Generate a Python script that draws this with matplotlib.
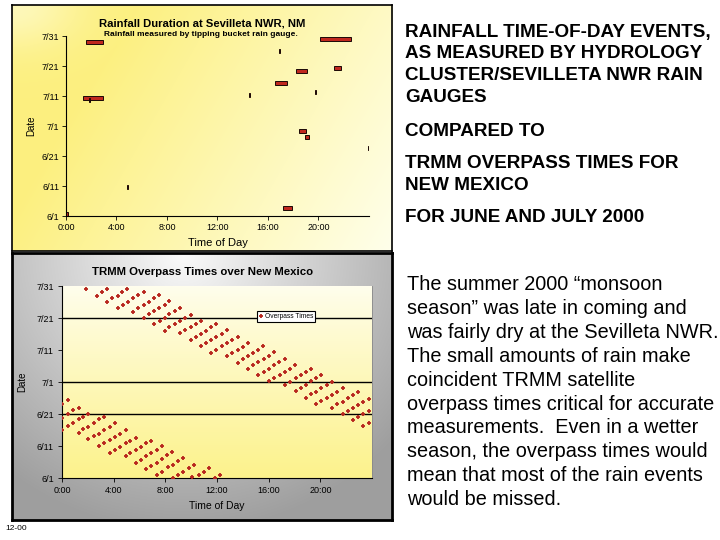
import matplotlib

matplotlib.use("Agg")
import matplotlib.pyplot as plt
import numpy as np

plt.rcParams["font.family"] = ["Liberation Sans", "DejaVu Sans"]

W, H = 720, 540

DATE_TICKS = [0, 10, 20, 30, 40, 50, 60]
DATE_LABELS = ["6/1", "6/11", "6/21", "7/1", "7/11", "7/21", "7/31"]
HOUR_TICKS = [0, 4, 8, 12, 16, 20]
HOUR_LABELS = ["0:00", "4:00", "8:00", "12:00", "16:00", "20:00"]

# rain gauge events (hours of day, days after 6/1)
rain_start = [1.58, 1.37, 1.82, 4.85, 0.02, 17.2, 14.47, 16.58, 18.22, 21.25, 20.12, 16.85, 19.73, 18.48, 18.93, 23.9]
rain_end = [2.91, 2.91, 1.9, 4.95, 0.12, 17.9, 14.57, 17.53, 19.06, 21.76, 22.55, 16.95, 19.83, 19.01, 19.25, 23.97]
rain_day = [58.1, 39.4, 38.6, 9.6, 0.6, 2.6, 40.3, 44.2, 48.3, 49.2, 59.1, 55.1, 41.4, 28.2, 26.3, 22.6]

# TRMM overpasses over New Mexico (hours of day, days after 6/1)
overpass_hour = [
    1.82,
    2.70, 3.08, 3.47,
    3.47, 3.88, 4.30, 4.68, 5.07,
    4.30, 4.71, 5.10, 5.51, 5.90, 6.31,
    5.48, 5.90, 6.31, 6.70, 7.11, 7.52,
    6.31, 6.70, 7.11, 7.52, 7.94, 8.32,
    7.14, 7.55, 7.96, 8.32, 8.71, 9.10,
    7.94, 8.32, 8.71, 9.15, 9.56, 9.95,
    9.15, 9.56, 9.95, 10.34, 10.75,
    9.95, 10.34, 10.75, 11.16, 11.55, 11.96,
    10.75, 11.16, 11.55, 11.96, 12.37, 12.79,
    11.55, 11.96, 12.37, 12.79, 13.17, 13.59,
    12.79, 13.17, 13.59, 14.00, 14.39,
    13.59, 14.00, 14.39, 14.80, 15.21, 15.55,
    14.39, 14.80, 15.21, 15.60, 16.01, 16.40,
    15.21, 15.60, 16.01, 16.40, 16.81, 17.23,
    16.01, 16.43, 16.84, 17.23, 17.64, 18.05,
    17.30, 17.69, 18.10, 18.49, 18.90, 19.29,
    18.08, 18.49, 18.90, 19.29, 19.70, 20.09,
    18.90, 19.29, 19.70, 20.09, 20.50, 20.92,
    19.70, 20.09, 20.50, 20.92, 21.30, 21.72,
    20.92, 21.30, 21.72, 22.13, 22.52, 22.93,
    21.72, 22.13, 22.52, 22.93, 23.34, 23.75,
    22.52, 22.93, 23.34, 23.75,
    23.34, 23.75,
    0.02, 0.45,
    0.02, 0.45, 0.89, 1.28,
    0.02, 0.45, 0.89, 1.28, 1.66, 2.05,
    1.28, 1.66, 2.05, 2.46, 2.88, 3.29,
    2.05, 2.46, 2.88, 3.29, 3.68, 4.09,
    2.88, 3.29, 3.68, 4.09, 4.50, 4.92,
    3.68, 4.09, 4.50, 4.92, 5.30, 5.72,
    4.92, 5.30, 5.72, 6.13, 6.52, 6.90,
    5.72, 6.13, 6.52, 6.90, 7.32, 7.76,
    6.52, 6.90, 7.32, 7.76, 8.12, 8.53,
    7.32, 7.76, 8.19, 8.58, 8.97, 9.35,
    8.58, 8.97, 9.35, 9.82, 10.21,
    10.05, 10.59, 10.98, 11.37,
    11.81, 12.25,
]
overpass_day = [
    59.2,
    57.0, 58.0, 59.2,
    55.1, 56.1, 57.0, 58.0, 59.2,
    53.0, 54.1, 55.1, 56.1, 57.1, 58.1,
    52.0, 53.0, 54.1, 55.1, 56.1, 57.1,
    50.1, 51.1, 52.1, 53.0, 54.2, 55.2,
    48.0, 49.1, 50.1, 51.1, 52.1, 53.1,
    46.0, 47.1, 48.0, 49.0, 50.0, 51.0,
    45.2, 46.1, 47.1, 48.1, 49.2,
    43.1, 44.1, 45.1, 46.0, 47.1, 48.2,
    41.2, 42.2, 43.1, 44.1, 45.1, 46.2,
    39.1, 40.1, 41.1, 42.1, 43.1, 44.2,
    38.1, 39.0, 40.1, 41.0, 42.2,
    36.0, 37.1, 38.0, 39.0, 40.0, 41.1,
    34.2, 35.2, 36.2, 37.2, 38.2, 39.4,
    32.2, 33.1, 34.1, 35.2, 36.1, 37.2,
    30.3, 31.2, 32.2, 33.2, 34.2, 35.2,
    29.2, 30.1, 31.1, 32.2, 33.1, 34.1,
    27.1, 28.2, 29.1, 30.2, 31.1, 32.2,
    25.1, 26.1, 27.0, 28.1, 29.2, 30.1,
    23.0, 24.0, 25.1, 26.0, 27.0, 28.1,
    21.9, 23.0, 23.9, 24.9, 25.9, 26.9,
    19.9, 20.9, 21.8, 22.9, 23.8, 24.8,
    18.1, 19.0, 20.0, 21.0,
    16.2, 17.1,
    23.0, 24.3,
    18.8, 20.1, 21.2, 22.0,
    14.9, 16.3, 17.2, 18.3, 19.1, 20.1,
    14.2, 15.2, 16.0, 17.2, 18.3, 19.1,
    12.1, 13.0, 13.9, 14.9, 16.0, 17.2,
    10.0, 11.0, 11.8, 12.8, 13.9, 14.9,
    7.8, 8.8, 9.7, 10.8, 11.7, 12.6,
    6.8, 7.7, 8.7, 9.7, 10.8, 11.7,
    4.8, 5.7, 6.8, 7.8, 8.9, 9.9,
    2.9, 3.9, 4.8, 5.9, 7.1, 8.1,
    1.0, 2.0, 3.3, 4.2, 5.2, 6.1,
    0.1, 1.0, 1.9, 3.1, 4.2,
    0.2, 1.0, 1.9, 3.1,
    0.1, 1.0,
]
grid_days = [20, 30, 50]

heading_lines = [
    "RAINFALL TIME-OF-DAY EVENTS,",
    "AS MEASURED BY HYDROLOGY",
    "CLUSTER/SEVILLETA NWR RAIN",
    "GAUGES",
    "COMPARED TO",
    "TRMM OVERPASS TIMES FOR",
    "NEW MEXICO",
    "FOR JUNE AND JULY 2000",
]
heading_y = [32, 54, 76, 98, 131, 163, 185, 218]

body_lines = [
    "The summer 2000 \u201cmonsoon",
    "season\u201d was late in coming and",
    "was fairly dry at the Sevilleta NWR.",
    "The small amounts of rain make",
    "coincident TRMM satellite",
    "overpass times critical for accurate",
    "measurements.  Even in a wetter",
    "season, the overpass times would",
    "mean that most of the rain events",
    "would be missed.",
]


def box(left, top, right, bottom):
    return [left / W, 1 - bottom / H, (right - left) / W, (bottom - top) / H]


def panel(rect, img, lw):
    ax = fig.add_axes(rect)
    ax.imshow(img, extent=[0, 1, 0, 1], aspect="auto", interpolation="bilinear")
    ax.set_xticks([])
    ax.set_yticks([])
    for s in ax.spines.values():
        s.set_linewidth(lw)
        s.set_color("black")
    return ax


fig = plt.figure(figsize=(7.2, 5.4), dpi=100)
fig.patch.set_facecolor("white")

# background panels
yy, xx = np.mgrid[0:1:120j, 0:1:180j]
t = np.clip(0.95 * xx + 0.35 * yy - 0.3, 0, 1)
t = np.maximum(t, 0.55 * np.exp(-(xx ** 2 + yy ** 2) / 0.03))
yellow = np.array([0.99, 0.94, 0.50])
pale = np.array([1.0, 1.0, 0.92])
top_img = yellow * (1 - t[..., None]) + pale * t[..., None]
panel(box(12, 5, 392, 251), top_img, 1.2)

d = np.sqrt(((xx - 0.45) / 0.75) ** 2 + (yy / 1.05) ** 2)
g = 0.98 - 0.36 * np.clip(d, 0, 1)
bot_img = np.dstack([g, g, g])
panel(box(12, 253, 392, 520), bot_img, 2.0)

# top chart: rainfall duration
ax1 = fig.add_axes(box(66, 36, 369, 216))
ax1.patch.set_alpha(0)
ax1.barh(rain_day, np.array(rain_end) - np.array(rain_start), left=rain_start,
         height=1.3, color="#c0281e", edgecolor="#1a0805", linewidth=0.7)
ax1.set_xlim(0, 24)
ax1.set_ylim(0, 60)
ax1.set_xticks(HOUR_TICKS)
ax1.set_xticklabels(HOUR_LABELS)
ax1.set_yticks(DATE_TICKS)
ax1.set_yticklabels(DATE_LABELS)
ax1.tick_params(length=3, width=0.6, labelsize=6.5, pad=2)
for s in ["top", "right"]:
    ax1.spines[s].set_visible(False)
for s in ["left", "bottom"]:
    ax1.spines[s].set_linewidth(0.8)
ax1.set_xlabel("Time of Day", fontsize=8, labelpad=4)
ax1.set_ylabel("Date", fontsize=7, labelpad=4)
fig.text(202 / W, 1 - 23 / H, "Rainfall Duration at Sevilleta NWR, NM",
         ha="center", va="center", fontsize=8.1, fontweight="bold")
fig.text(201 / W, 1 - 35 / H, "Rainfall measured by tipping bucket rain gauge.",
         ha="center", va="center", fontsize=6.0, fontweight="bold")

# bottom chart: TRMM overpass times
ax2 = fig.add_axes(box(62, 286, 372, 478))
pyy = np.linspace(0, 1, 100)[:, None] * np.ones((1, 10))
pt = pyy ** 0.9
area_img = (np.array([1.0, 0.995, 0.93]) * (1 - pt[..., None])
            + np.array([0.99, 0.95, 0.55]) * pt[..., None])
ax2.imshow(area_img, extent=[0, 24, 0, 60], aspect="auto", zorder=0,
           interpolation="bilinear")
for gd in grid_days:
    ax2.axhline(gd, color="black", linewidth=1.0, zorder=1)
ax2.plot(overpass_hour, overpass_day, linestyle="none", marker="+",
         markersize=3.4, markeredgewidth=1.3, color="#b8261e", zorder=3,
         label="Overpass Times")
ax2.set_xlim(0, 24)
ax2.set_ylim(0, 60)
ax2.set_xticks(HOUR_TICKS)
ax2.set_xticklabels(HOUR_LABELS)
ax2.set_yticks(DATE_TICKS)
ax2.set_yticklabels(DATE_LABELS)
ax2.tick_params(length=3, width=0.6, labelsize=6.5, pad=3)
ax2.spines["top"].set_visible(False)
ax2.spines["right"].set_color("#888888")
ax2.spines["right"].set_linewidth(0.6)
for s in ["left", "bottom"]:
    ax2.spines[s].set_linewidth(0.8)
ax2.set_xlabel("Time of Day", fontsize=7.5, labelpad=4)
ax2.set_ylabel("Date", fontsize=7, labelpad=6)
leg = ax2.legend(loc="center", bbox_to_anchor=(0.723, 0.839), fontsize=4.8,
                 frameon=True, fancybox=False, borderpad=0.3, handlelength=0.6,
                 handletextpad=0.3, borderaxespad=0, markerscale=0.8)
leg.get_frame().set_edgecolor("black")
leg.get_frame().set_linewidth(0.8)
leg.get_frame().set_facecolor("white")
leg.get_frame().set_alpha(1)
fig.text(203 / W, 1 - 272 / H, "TRMM Overpass Times over New Mexico",
         ha="center", va="center", fontsize=8.2, fontweight="bold")

# right-hand notes
for line, y in zip(heading_lines, heading_y):
    fig.text(405 / W, 1 - y / H, line, ha="left", va="center",
             fontsize=13.6, fontweight="bold")
for i, line in enumerate(body_lines):
    fig.text(407 / W, 1 - (285 + i * 23.8) / H, line, ha="left", va="center",
             fontsize=14.3)

fig.text(5 / W, 1 - 528 / H, "12-00", ha="left", va="center", fontsize=6)

fig.savefig("out.png", dpi=100)
